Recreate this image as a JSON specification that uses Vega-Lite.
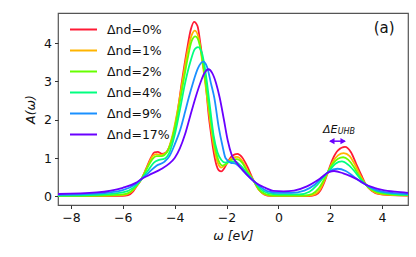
{
  "$schema": "https://vega.github.io/schema/vega-lite/v6.json",
  "width": 350,
  "height": 192,
  "autosize": "none",
  "padding": {"left": 58, "top": 13, "right": 8, "bottom": 52},
  "config": {
    "font": "DejaVu Sans",
    "view": {"stroke": "#555", "strokeWidth": 1.2},
    "axis": {"grid": false, "domain": false, "tickColor": "#333", "tickSize": 3.5, "labelFontSize": 12.5, "labelColor": "#111", "titleFontSize": 12.5, "titleFontWeight": "normal", "titleColor": "#111", "labelPadding": 3}
  },
  "datasets": {
    "curves": [
      {"s":"Δnd=0%","x":-8.5,"y":0.003},{"s":"Δnd=0%","x":-7,"y":0.005},{"s":"Δnd=0%","x":-6,"y":0.01},{"s":"Δnd=0%","x":-5.8,"y":0.03},{"s":"Δnd=0%","x":-5.6,"y":0.13},{"s":"Δnd=0%","x":-5.45,"y":0.28},{"s":"Δnd=0%","x":-5.28,"y":0.45},{"s":"Δnd=0%","x":-5.1,"y":0.72},{"s":"Δnd=0%","x":-4.92,"y":1.0},{"s":"Δnd=0%","x":-4.78,"y":1.15},{"s":"Δnd=0%","x":-4.65,"y":1.16},{"s":"Δnd=0%","x":-4.5,"y":1.11},{"s":"Δnd=0%","x":-4.35,"y":1.14},{"s":"Δnd=0%","x":-4.2,"y":1.3},{"s":"Δnd=0%","x":-4.05,"y":1.62},{"s":"Δnd=0%","x":-3.9,"y":2.15},{"s":"Δnd=0%","x":-3.72,"y":3.0},{"s":"Δnd=0%","x":-3.52,"y":3.85},{"s":"Δnd=0%","x":-3.38,"y":4.35},{"s":"Δnd=0%","x":-3.25,"y":4.56},{"s":"Δnd=0%","x":-3.12,"y":4.45},{"s":"Δnd=0%","x":-3.0,"y":3.95},{"s":"Δnd=0%","x":-2.9,"y":3.45},{"s":"Δnd=0%","x":-2.81,"y":3.0},{"s":"Δnd=0%","x":-2.69,"y":2.13},{"s":"Δnd=0%","x":-2.6,"y":1.65},{"s":"Δnd=0%","x":-2.52,"y":1.26},{"s":"Δnd=0%","x":-2.39,"y":0.82},{"s":"Δnd=0%","x":-2.3,"y":0.68},{"s":"Δnd=0%","x":-2.2,"y":0.65},{"s":"Δnd=0%","x":-2.1,"y":0.72},{"s":"Δnd=0%","x":-1.95,"y":0.9},{"s":"Δnd=0%","x":-1.78,"y":1.06},{"s":"Δnd=0%","x":-1.58,"y":1.11},{"s":"Δnd=0%","x":-1.4,"y":1.02},{"s":"Δnd=0%","x":-1.2,"y":0.78},{"s":"Δnd=0%","x":-0.94,"y":0.39},{"s":"Δnd=0%","x":-0.75,"y":0.17},{"s":"Δnd=0%","x":-0.55,"y":0.05},{"s":"Δnd=0%","x":-0.3,"y":0.01},{"s":"Δnd=0%","x":1.2,"y":0.005},{"s":"Δnd=0%","x":1.45,"y":0.04},{"s":"Δnd=0%","x":1.62,"y":0.15},{"s":"Δnd=0%","x":1.78,"y":0.38},{"s":"Δnd=0%","x":1.92,"y":0.65},{"s":"Δnd=0%","x":2.1,"y":0.98},{"s":"Δnd=0%","x":2.3,"y":1.2},{"s":"Δnd=0%","x":2.57,"y":1.29},{"s":"Δnd=0%","x":2.8,"y":1.15},{"s":"Δnd=0%","x":3.0,"y":0.85},{"s":"Δnd=0%","x":3.2,"y":0.55},{"s":"Δnd=0%","x":3.38,"y":0.3},{"s":"Δnd=0%","x":3.6,"y":0.14},{"s":"Δnd=0%","x":3.85,"y":0.06},{"s":"Δnd=0%","x":4.3,"y":0.03},{"s":"Δnd=0%","x":5,"y":0.02},

      {"s":"Δnd=1%","x":-8.5,"y":0.005},{"s":"Δnd=1%","x":-7,"y":0.01},{"s":"Δnd=1%","x":-6,"y":0.03},{"s":"Δnd=1%","x":-5.75,"y":0.08},{"s":"Δnd=1%","x":-5.5,"y":0.24},{"s":"Δnd=1%","x":-5.28,"y":0.45},{"s":"Δnd=1%","x":-5.05,"y":0.78},{"s":"Δnd=1%","x":-4.85,"y":1.05},{"s":"Δnd=1%","x":-4.7,"y":1.1},{"s":"Δnd=1%","x":-4.5,"y":1.08},{"s":"Δnd=1%","x":-4.3,"y":1.16},{"s":"Δnd=1%","x":-4.1,"y":1.55},{"s":"Δnd=1%","x":-3.9,"y":2.2},{"s":"Δnd=1%","x":-3.7,"y":3.0},{"s":"Δnd=1%","x":-3.5,"y":3.8},{"s":"Δnd=1%","x":-3.35,"y":4.2},{"s":"Δnd=1%","x":-3.22,"y":4.33},{"s":"Δnd=1%","x":-3.08,"y":4.15},{"s":"Δnd=1%","x":-2.95,"y":3.6},{"s":"Δnd=1%","x":-2.8,"y":2.85},{"s":"Δnd=1%","x":-2.65,"y":2.05},{"s":"Δnd=1%","x":-2.5,"y":1.35},{"s":"Δnd=1%","x":-2.35,"y":0.9},{"s":"Δnd=1%","x":-2.2,"y":0.75},{"s":"Δnd=1%","x":-2.05,"y":0.82},{"s":"Δnd=1%","x":-1.85,"y":0.97},{"s":"Δnd=1%","x":-1.6,"y":1.03},{"s":"Δnd=1%","x":-1.4,"y":0.93},{"s":"Δnd=1%","x":-1.2,"y":0.68},{"s":"Δnd=1%","x":-0.94,"y":0.39},{"s":"Δnd=1%","x":-0.75,"y":0.17},{"s":"Δnd=1%","x":-0.5,"y":0.04},{"s":"Δnd=1%","x":-0.2,"y":0.01},{"s":"Δnd=1%","x":1.1,"y":0.01},{"s":"Δnd=1%","x":1.4,"y":0.05},{"s":"Δnd=1%","x":1.6,"y":0.17},{"s":"Δnd=1%","x":1.78,"y":0.42},{"s":"Δnd=1%","x":1.92,"y":0.64},{"s":"Δnd=1%","x":2.1,"y":0.9},{"s":"Δnd=1%","x":2.3,"y":1.07},{"s":"Δnd=1%","x":2.52,"y":1.13},{"s":"Δnd=1%","x":2.75,"y":1.05},{"s":"Δnd=1%","x":2.95,"y":0.83},{"s":"Δnd=1%","x":3.15,"y":0.56},{"s":"Δnd=1%","x":3.38,"y":0.3},{"s":"Δnd=1%","x":3.6,"y":0.15},{"s":"Δnd=1%","x":4,"y":0.05},{"s":"Δnd=1%","x":4.5,"y":0.03},{"s":"Δnd=1%","x":5,"y":0.02},

      {"s":"Δnd=2%","x":-8.5,"y":0.01},{"s":"Δnd=2%","x":-7,"y":0.02},{"s":"Δnd=2%","x":-6,"y":0.05},{"s":"Δnd=2%","x":-5.7,"y":0.12},{"s":"Δnd=2%","x":-5.5,"y":0.25},{"s":"Δnd=2%","x":-5.28,"y":0.45},{"s":"Δnd=2%","x":-5.05,"y":0.75},{"s":"Δnd=2%","x":-4.85,"y":0.98},{"s":"Δnd=2%","x":-4.7,"y":1.05},{"s":"Δnd=2%","x":-4.5,"y":1.05},{"s":"Δnd=2%","x":-4.3,"y":1.15},{"s":"Δnd=2%","x":-4.1,"y":1.5},{"s":"Δnd=2%","x":-3.9,"y":2.1},{"s":"Δnd=2%","x":-3.7,"y":2.85},{"s":"Δnd=2%","x":-3.5,"y":3.6},{"s":"Δnd=2%","x":-3.35,"y":4.05},{"s":"Δnd=2%","x":-3.2,"y":4.18},{"s":"Δnd=2%","x":-3.05,"y":4.0},{"s":"Δnd=2%","x":-2.9,"y":3.45},{"s":"Δnd=2%","x":-2.75,"y":2.7},{"s":"Δnd=2%","x":-2.6,"y":1.95},{"s":"Δnd=2%","x":-2.45,"y":1.3},{"s":"Δnd=2%","x":-2.3,"y":0.92},{"s":"Δnd=2%","x":-2.15,"y":0.8},{"s":"Δnd=2%","x":-2.0,"y":0.85},{"s":"Δnd=2%","x":-1.8,"y":0.95},{"s":"Δnd=2%","x":-1.6,"y":0.97},{"s":"Δnd=2%","x":-1.4,"y":0.88},{"s":"Δnd=2%","x":-1.2,"y":0.65},{"s":"Δnd=2%","x":-0.94,"y":0.39},{"s":"Δnd=2%","x":-0.75,"y":0.18},{"s":"Δnd=2%","x":-0.5,"y":0.06},{"s":"Δnd=2%","x":-0.2,"y":0.02},{"s":"Δnd=2%","x":1.0,"y":0.02},{"s":"Δnd=2%","x":1.3,"y":0.06},{"s":"Δnd=2%","x":1.55,"y":0.2},{"s":"Δnd=2%","x":1.75,"y":0.42},{"s":"Δnd=2%","x":1.92,"y":0.65},{"s":"Δnd=2%","x":2.1,"y":0.85},{"s":"Δnd=2%","x":2.3,"y":0.98},{"s":"Δnd=2%","x":2.5,"y":1.02},{"s":"Δnd=2%","x":2.7,"y":0.95},{"s":"Δnd=2%","x":2.9,"y":0.78},{"s":"Δnd=2%","x":3.1,"y":0.55},{"s":"Δnd=2%","x":3.38,"y":0.3},{"s":"Δnd=2%","x":3.6,"y":0.17},{"s":"Δnd=2%","x":4,"y":0.07},{"s":"Δnd=2%","x":4.5,"y":0.04},{"s":"Δnd=2%","x":5,"y":0.03},

      {"s":"Δnd=4%","x":-8.5,"y":0.02},{"s":"Δnd=4%","x":-7,"y":0.04},{"s":"Δnd=4%","x":-6,"y":0.1},{"s":"Δnd=4%","x":-5.6,"y":0.22},{"s":"Δnd=4%","x":-5.28,"y":0.45},{"s":"Δnd=4%","x":-5.0,"y":0.7},{"s":"Δnd=4%","x":-4.8,"y":0.88},{"s":"Δnd=4%","x":-4.6,"y":0.95},{"s":"Δnd=4%","x":-4.4,"y":0.98},{"s":"Δnd=4%","x":-4.2,"y":1.15},{"s":"Δnd=4%","x":-4.0,"y":1.6},{"s":"Δnd=4%","x":-3.8,"y":2.25},{"s":"Δnd=4%","x":-3.6,"y":2.95},{"s":"Δnd=4%","x":-3.4,"y":3.5},{"s":"Δnd=4%","x":-3.22,"y":3.85},{"s":"Δnd=4%","x":-3.1,"y":3.9},{"s":"Δnd=4%","x":-2.95,"y":3.75},{"s":"Δnd=4%","x":-2.8,"y":3.2},{"s":"Δnd=4%","x":-2.65,"y":2.4},{"s":"Δnd=4%","x":-2.5,"y":1.6},{"s":"Δnd=4%","x":-2.35,"y":1.15},{"s":"Δnd=4%","x":-2.2,"y":0.95},{"s":"Δnd=4%","x":-2.05,"y":0.88},{"s":"Δnd=4%","x":-1.85,"y":0.9},{"s":"Δnd=4%","x":-1.65,"y":0.9},{"s":"Δnd=4%","x":-1.45,"y":0.8},{"s":"Δnd=4%","x":-1.2,"y":0.6},{"s":"Δnd=4%","x":-0.94,"y":0.39},{"s":"Δnd=4%","x":-0.7,"y":0.2},{"s":"Δnd=4%","x":-0.4,"y":0.08},{"s":"Δnd=4%","x":0,"y":0.05},{"s":"Δnd=4%","x":0.8,"y":0.05},{"s":"Δnd=4%","x":1.2,"y":0.12},{"s":"Δnd=4%","x":1.5,"y":0.3},{"s":"Δnd=4%","x":1.75,"y":0.5},{"s":"Δnd=4%","x":1.95,"y":0.66},{"s":"Δnd=4%","x":2.2,"y":0.85},{"s":"Δnd=4%","x":2.45,"y":0.91},{"s":"Δnd=4%","x":2.7,"y":0.82},{"s":"Δnd=4%","x":3.0,"y":0.6},{"s":"Δnd=4%","x":3.2,"y":0.42},{"s":"Δnd=4%","x":3.38,"y":0.3},{"s":"Δnd=4%","x":3.6,"y":0.2},{"s":"Δnd=4%","x":4,"y":0.1},{"s":"Δnd=4%","x":4.5,"y":0.06},{"s":"Δnd=4%","x":5,"y":0.04},

      {"s":"Δnd=9%","x":-8.5,"y":0.04},{"s":"Δnd=9%","x":-7,"y":0.07},{"s":"Δnd=9%","x":-6,"y":0.16},{"s":"Δnd=9%","x":-5.5,"y":0.32},{"s":"Δnd=9%","x":-5.28,"y":0.45},{"s":"Δnd=9%","x":-5.0,"y":0.62},{"s":"Δnd=9%","x":-4.7,"y":0.8},{"s":"Δnd=9%","x":-4.4,"y":0.9},{"s":"Δnd=9%","x":-4.2,"y":1.05},{"s":"Δnd=9%","x":-4.0,"y":1.35},{"s":"Δnd=9%","x":-3.78,"y":1.75},{"s":"Δnd=9%","x":-3.6,"y":2.2},{"s":"Δnd=9%","x":-3.46,"y":2.57},{"s":"Δnd=9%","x":-3.3,"y":2.95},{"s":"Δnd=9%","x":-3.1,"y":3.35},{"s":"Δnd=9%","x":-2.9,"y":3.52},{"s":"Δnd=9%","x":-2.75,"y":3.38},{"s":"Δnd=9%","x":-2.6,"y":2.95},{"s":"Δnd=9%","x":-2.47,"y":2.57},{"s":"Δnd=9%","x":-2.3,"y":1.8},{"s":"Δnd=9%","x":-2.15,"y":1.3},{"s":"Δnd=9%","x":-2.04,"y":1.0},{"s":"Δnd=9%","x":-1.85,"y":0.88},{"s":"Δnd=9%","x":-1.65,"y":0.85},{"s":"Δnd=9%","x":-1.4,"y":0.7},{"s":"Δnd=9%","x":-1.2,"y":0.55},{"s":"Δnd=9%","x":-0.94,"y":0.39},{"s":"Δnd=9%","x":-0.7,"y":0.25},{"s":"Δnd=9%","x":-0.4,"y":0.13},{"s":"Δnd=9%","x":0,"y":0.09},{"s":"Δnd=9%","x":0.5,"y":0.09},{"s":"Δnd=9%","x":1.0,"y":0.15},{"s":"Δnd=9%","x":1.4,"y":0.3},{"s":"Δnd=9%","x":1.7,"y":0.5},{"s":"Δnd=9%","x":1.95,"y":0.65},{"s":"Δnd=9%","x":2.28,"y":0.72},{"s":"Δnd=9%","x":2.6,"y":0.66},{"s":"Δnd=9%","x":2.9,"y":0.52},{"s":"Δnd=9%","x":3.2,"y":0.37},{"s":"Δnd=9%","x":3.38,"y":0.3},{"s":"Δnd=9%","x":3.7,"y":0.18},{"s":"Δnd=9%","x":4,"y":0.12},{"s":"Δnd=9%","x":4.5,"y":0.08},{"s":"Δnd=9%","x":5,"y":0.06},

      {"s":"Δnd=17%","x":-8.5,"y":0.06},{"s":"Δnd=17%","x":-7,"y":0.1},{"s":"Δnd=17%","x":-6,"y":0.22},{"s":"Δnd=17%","x":-5.5,"y":0.35},{"s":"Δnd=17%","x":-5.28,"y":0.45},{"s":"Δnd=17%","x":-5.0,"y":0.55},{"s":"Δnd=17%","x":-4.5,"y":0.72},{"s":"Δnd=17%","x":-4.2,"y":0.86},{"s":"Δnd=17%","x":-4.0,"y":1.0},{"s":"Δnd=17%","x":-3.8,"y":1.25},{"s":"Δnd=17%","x":-3.6,"y":1.62},{"s":"Δnd=17%","x":-3.4,"y":2.1},{"s":"Δnd=17%","x":-3.2,"y":2.57},{"s":"Δnd=17%","x":-3.0,"y":2.98},{"s":"Δnd=17%","x":-2.85,"y":3.22},{"s":"Δnd=17%","x":-2.7,"y":3.32},{"s":"Δnd=17%","x":-2.55,"y":3.22},{"s":"Δnd=17%","x":-2.4,"y":2.95},{"s":"Δnd=17%","x":-2.26,"y":2.57},{"s":"Δnd=17%","x":-2.1,"y":2.0},{"s":"Δnd=17%","x":-1.95,"y":1.45},{"s":"Δnd=17%","x":-1.8,"y":1.08},{"s":"Δnd=17%","x":-1.6,"y":0.87},{"s":"Δnd=17%","x":-1.33,"y":0.65},{"s":"Δnd=17%","x":-0.94,"y":0.39},{"s":"Δnd=17%","x":-0.75,"y":0.3},{"s":"Δnd=17%","x":-0.5,"y":0.22},{"s":"Δnd=17%","x":-0.2,"y":0.14},{"s":"Δnd=17%","x":0.2,"y":0.13},{"s":"Δnd=17%","x":0.6,"y":0.15},{"s":"Δnd=17%","x":1.1,"y":0.26},{"s":"Δnd=17%","x":1.6,"y":0.46},{"s":"Δnd=17%","x":1.95,"y":0.63},{"s":"Δnd=17%","x":2.15,"y":0.66},{"s":"Δnd=17%","x":2.5,"y":0.6},{"s":"Δnd=17%","x":2.8,"y":0.52},{"s":"Δnd=17%","x":3.1,"y":0.42},{"s":"Δnd=17%","x":3.38,"y":0.3},{"s":"Δnd=17%","x":3.7,"y":0.22},{"s":"Δnd=17%","x":4,"y":0.17},{"s":"Δnd=17%","x":4.5,"y":0.12},{"s":"Δnd=17%","x":5,"y":0.09}
    ]
  },
  "layer": [
    {
      "data": {"name": "curves"},
      "mark": {"type": "line", "interpolate": "monotone", "strokeWidth": 1.8, "clip": true},
      "encoding": {
        "x": {"field": "x", "type": "quantitative", "scale": {"domain": [-8.5, 5], "nice": false, "zero": false}, "axis": {"values": [-8, -6, -4, -2, 0, 2, 4], "title": "ω [eV]", "titleFontStyle": "italic", "titlePadding": 5}},
        "y": {"field": "y", "type": "quantitative", "scale": {"domain": [-0.228, 4.79], "nice": false, "zero": false}, "axis": {"values": [0, 1, 2, 3, 4], "title": "A(ω)", "titleFontStyle": "italic", "titlePadding": 6}},
        "color": {"field": "s", "type": "nominal", "scale": {"domain": ["Δnd=0%", "Δnd=1%", "Δnd=2%", "Δnd=4%", "Δnd=9%", "Δnd=17%"], "range": ["#ff1a35", "#ffb400", "#66ff00", "#00ff80", "#1a90ff", "#6a00ff"]},
          "legend": {"title": null, "orient": "none", "legendX": 11, "legendY": 2, "symbolType": "M-1,0H1", "symbolSize": 729, "symbolStrokeWidth": 2, "labelFontSize": 12.5, "labelOffset": 9, "rowPadding": -1.3, "padding": 0, "labelColor": "#111"}}
      }
    },
    {
      "data": {"values": [{"x1": 2.0, "x2": 2.56, "y": 1.44}]},
      "mark": {"type": "rule", "color": "#6a00ff", "strokeWidth": 1.5},
      "encoding": {"x": {"field": "x1", "type": "quantitative"}, "x2": {"field": "x2"}, "y": {"field": "y", "type": "quantitative"}}
    },
    {
      "data": {"values": [{"x": 2.06, "y": 1.44, "sh": "triangle-left"}, {"x": 2.5, "y": 1.44, "sh": "triangle-right"}]},
      "mark": {"type": "point", "filled": true, "color": "#6a00ff", "size": 40, "opacity": 1},
      "encoding": {"x": {"field": "x", "type": "quantitative"}, "y": {"field": "y", "type": "quantitative"}, "shape": {"field": "sh", "type": "nominal", "scale": null, "legend": null}}
    },
    {
      "data": {"values": [{"x": 4.08, "y": 4.4, "t": "(a)"}]},
      "mark": {"type": "text", "fontSize": 15, "color": "#111", "baseline": "middle", "align": "center"},
      "encoding": {"x": {"field": "x", "type": "quantitative"}, "y": {"field": "y", "type": "quantitative"}, "text": {"field": "t"}}
    },
    {
      "data": {"values": [{"x": 2.28, "y": 1.66, "t": "ΔE"}]},
      "mark": {"type": "text", "fontSize": 11, "fontStyle": "italic", "color": "#111", "baseline": "alphabetic", "align": "right"},
      "encoding": {"x": {"field": "x", "type": "quantitative"}, "y": {"field": "y", "type": "quantitative"}, "text": {"field": "t"}}
    },
    {
      "data": {"values": [{"x": 2.29, "y": 1.62, "t": "UHB"}]},
      "mark": {"type": "text", "fontSize": 8, "fontStyle": "italic", "color": "#111", "baseline": "alphabetic", "align": "left"},
      "encoding": {"x": {"field": "x", "type": "quantitative"}, "y": {"field": "y", "type": "quantitative"}, "text": {"field": "t"}}
    }
  ]
}
